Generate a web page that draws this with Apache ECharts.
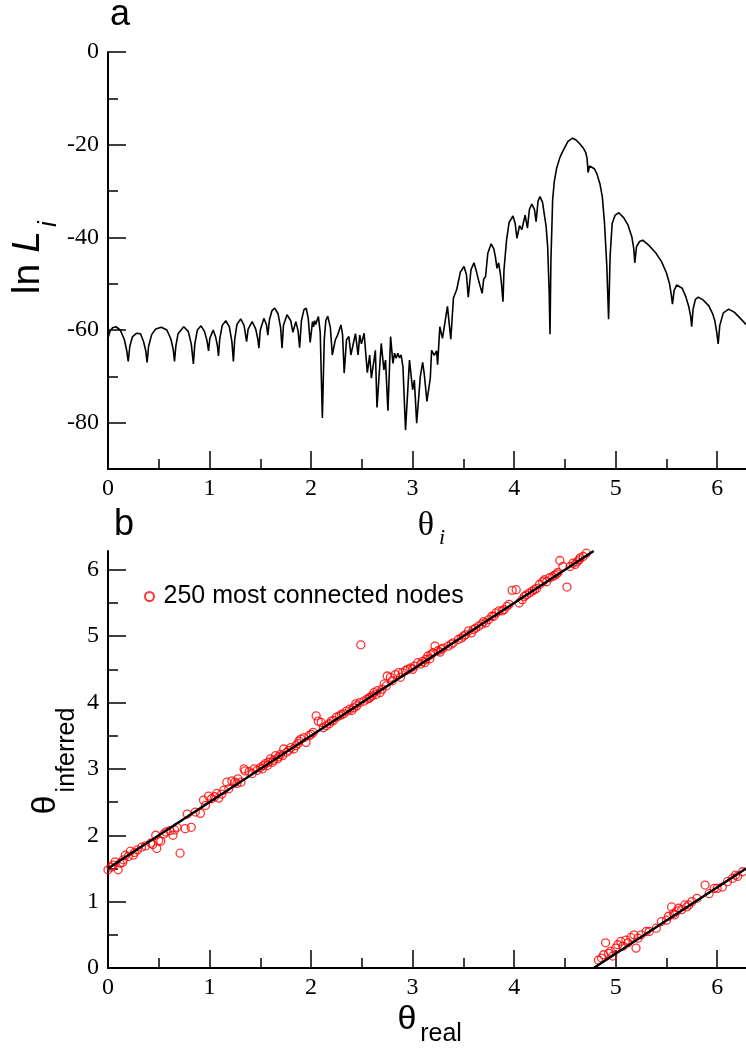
<!DOCTYPE html>
<html>
<head>
<meta charset="utf-8">
<script src="https://cdn.jsdelivr.net/npm/echarts@6/dist/echarts.min.js"></script>
<style>
  html, body { margin: 0; padding: 0; background: #fff; }
  #chart { width: 746px; height: 1050px; }
</style>
</head>
<body>
<div id="chart"></div>
<script>
  const TWO_PI = 6.2832;

  // tick positions
  const majorTicks = [0, 1, 2, 3, 4, 5, 6];
  const minorTicks = [0.5, 1.5, 2.5, 3.5, 4.5, 5.5];
  const lnLMajor = [0, -20, -40, -60, -80];
  const lnLMinor = [-10, -30, -50, -70];

  // panel a: ln L_i against theta_i
  const likelihood = [
    [0.000, -61.8], [0.020, -60.2], [0.045, -59.5], [0.078, -59.3], [0.120, -60.0], [0.160, -62.0],
    [0.185, -64.5], [0.199, -66.8], [0.215, -63.5], [0.240, -61.5], [0.280, -60.7], [0.320, -60.8],
    [0.350, -62.5], [0.372, -64.5], [0.385, -67.0], [0.400, -63.5], [0.430, -61.0], [0.470, -59.8],
    [0.525, -59.4], [0.580, -60.0], [0.620, -62.0], [0.643, -64.3], [0.655, -66.8], [0.668, -63.5],
    [0.690, -60.8], [0.746, -59.3], [0.790, -60.3], [0.820, -63.0], [0.841, -67.3], [0.855, -63.0],
    [0.880, -60.0], [0.916, -59.1], [0.950, -60.3], [0.975, -62.3], [0.990, -64.5], [1.003, -61.8],
    [1.036, -60.0], [1.060, -61.5], [1.078, -63.5], [1.088, -65.6], [1.100, -62.0], [1.125, -59.0],
    [1.160, -58.0], [1.195, -59.3], [1.220, -62.5], [1.235, -66.8], [1.248, -62.0], [1.270, -58.8],
    [1.307, -57.6], [1.340, -59.0], [1.365, -62.5], [1.380, -59.8], [1.420, -58.2], [1.455, -59.8],
    [1.476, -62.0], [1.486, -63.9], [1.500, -60.0], [1.535, -57.5], [1.560, -58.8], [1.574, -61.1],
    [1.590, -57.8], [1.615, -55.8], [1.642, -55.3], [1.675, -56.5], [1.700, -59.5], [1.714, -63.9],
    [1.728, -59.0], [1.763, -56.7], [1.800, -58.0], [1.821, -60.5], [1.850, -58.2], [1.872, -60.2],
    [1.887, -63.8], [1.905, -58.0], [1.930, -55.6], [1.952, -55.3], [1.972, -57.5], [1.991, -62.7],
    [2.014, -58.2], [2.024, -59.3], [2.035, -58.0], [2.045, -58.8], [2.072, -57.1], [2.090, -60.5],
    [2.111, -79.0], [2.130, -62.0], [2.145, -58.0], [2.164, -57.0], [2.190, -59.5], [2.209, -65.4],
    [2.239, -62.1], [2.261, -61.1], [2.294, -58.9], [2.310, -61.0], [2.326, -69.3], [2.349, -62.1],
    [2.372, -61.4], [2.392, -65.4], [2.437, -60.8], [2.463, -65.4], [2.479, -61.1], [2.496, -63.0],
    [2.522, -60.7], [2.554, -69.2], [2.577, -65.4], [2.594, -70.4], [2.633, -64.4], [2.649, -76.7],
    [2.691, -62.9], [2.717, -68.6], [2.733, -66.5], [2.757, -77.4], [2.783, -61.4], [2.806, -67.2],
    [2.822, -65.0], [2.838, -66.1], [2.855, -65.0], [2.870, -66.0], [2.887, -65.4], [2.905, -68.0],
    [2.930, -81.6], [2.969, -66.5], [3.000, -72.9], [3.017, -70.8], [3.040, -80.1], [3.076, -70.0],
    [3.099, -67.0], [3.115, -69.6], [3.141, -75.4], [3.174, -70.4], [3.187, -64.4], [3.213, -65.5],
    [3.236, -64.5], [3.246, -67.5], [3.268, -59.3], [3.294, -61.8], [3.343, -54.9], [3.376, -62.0],
    [3.402, -53.1], [3.435, -51.2], [3.470, -47.5], [3.506, -46.3], [3.530, -48.0], [3.548, -52.9],
    [3.575, -47.0], [3.604, -45.5], [3.630, -47.5], [3.653, -49.6], [3.685, -52.1], [3.700, -49.0],
    [3.718, -48.5], [3.740, -43.5], [3.773, -41.4], [3.800, -42.5], [3.815, -44.2], [3.831, -46.7],
    [3.847, -45.5], [3.863, -47.7], [3.875, -50.0], [3.890, -53.9], [3.900, -47.0], [3.925, -40.6],
    [3.950, -36.8], [3.988, -35.4], [4.010, -37.0], [4.027, -40.2], [4.053, -37.5], [4.076, -38.3],
    [4.108, -35.2], [4.131, -38.0], [4.150, -34.0], [4.174, -32.8], [4.200, -34.0], [4.216, -36.6],
    [4.235, -32.2], [4.255, -31.2], [4.280, -32.5], [4.298, -35.2], [4.314, -37.5], [4.330, -42.0],
    [4.345, -52.0], [4.353, -60.9], [4.362, -45.0], [4.379, -31.9], [4.395, -28.0], [4.418, -25.1],
    [4.450, -22.8], [4.477, -21.5], [4.530, -19.3], [4.575, -18.6], [4.610, -19.0], [4.646, -19.8],
    [4.680, -20.7], [4.705, -21.7], [4.718, -23.0], [4.728, -26.0], [4.742, -24.6], [4.760, -24.2],
    [4.790, -25.2], [4.815, -26.3], [4.845, -28.5], [4.868, -31.2], [4.890, -37.0], [4.912, -46.0],
    [4.930, -57.7], [4.945, -44.0], [4.965, -37.0], [4.995, -35.2], [5.031, -34.7], [5.080, -35.8],
    [5.120, -37.3], [5.160, -40.0], [5.178, -42.5], [5.188, -45.5], [5.205, -42.0], [5.235, -40.9],
    [5.266, -40.6], [5.330, -41.8], [5.396, -43.4], [5.450, -45.2], [5.500, -47.7], [5.530, -50.0],
    [5.548, -52.5], [5.559, -54.4], [5.575, -51.5], [5.600, -50.3], [5.618, -50.1], [5.655, -51.0],
    [5.690, -52.8], [5.720, -55.0], [5.738, -57.0], [5.748, -59.3], [5.762, -55.5], [5.785, -53.4],
    [5.813, -52.9], [5.860, -53.5], [5.917, -54.8], [5.955, -56.5], [5.976, -58.0], [5.995, -60.5],
    [6.009, -63.0], [6.025, -59.0], [6.060, -56.3], [6.113, -55.5], [6.170, -56.2], [6.237, -57.7],
    [6.283, -58.8]
  ];

  // panel b: [theta_real, theta_inferred] of the 250 most connected nodes
  const nodes = [
    [0.00, 1.48], [0.03, 1.52], [0.05, 1.55], [0.07, 1.60], [0.10, 1.48], [0.12, 1.58], [0.145, 1.59],
    [0.15, 1.63], [0.17, 1.70], [0.20, 1.68], [0.22, 1.76], [0.25, 1.70], [0.26, 1.74], [0.29, 1.78],
    [0.33, 1.82], [0.37, 1.84], [0.42, 1.88], [0.44, 1.86], [0.47, 2.00], [0.48, 1.80], [0.50, 1.92],
    [0.52, 1.91], [0.55, 2.02], [0.57, 2.05], [0.61, 2.07], [0.64, 2.00], [0.655, 2.08], [0.68, 2.12],
    [0.71, 1.73], [0.76, 2.10], [0.78, 2.32], [0.82, 2.12], [0.86, 2.35], [0.91, 2.33], [0.94, 2.53],
    [0.96, 2.45], [0.99, 2.59], [1.02, 2.55], [1.05, 2.58], [1.07, 2.63], [1.09, 2.56], [1.12, 2.62],
    [1.14, 2.68], [1.17, 2.80], [1.19, 2.70], [1.22, 2.82], [1.25, 2.80], [1.27, 2.78], [1.28, 2.85],
    [1.31, 2.80], [1.34, 3.00], [1.35, 2.97], [1.39, 2.96], [1.42, 2.93], [1.44, 3.00], [1.47, 2.98],
    [1.50, 3.02], [1.52, 3.00], [1.53, 3.05], [1.55, 3.08], [1.57, 3.05], [1.58, 3.10], [1.60, 3.15],
    [1.62, 3.10], [1.63, 3.13], [1.65, 3.20], [1.67, 3.15], [1.68, 3.18], [1.70, 3.22], [1.72, 3.20],
    [1.73, 3.30], [1.76, 3.25], [1.78, 3.28], [1.80, 3.32], [1.83, 3.30], [1.85, 3.35], [1.87, 3.38],
    [1.88, 3.42], [1.90, 3.45], [1.93, 3.47], [1.95, 3.40], [1.98, 3.50], [2.00, 3.52], [2.02, 3.55],
    [2.05, 3.80], [2.07, 3.72], [2.10, 3.70], [2.12, 3.62], [2.15, 3.65], [2.18, 3.68], [2.20, 3.72],
    [2.22, 3.73], [2.25, 3.78], [2.28, 3.80], [2.30, 3.82], [2.32, 3.83], [2.35, 3.87], [2.38, 3.90],
    [2.40, 3.88], [2.42, 3.92], [2.44, 3.98], [2.45, 3.95], [2.48, 4.00], [2.49, 4.87], [2.52, 4.02],
    [2.55, 4.05], [2.57, 4.06], [2.58, 4.08], [2.60, 4.10], [2.62, 4.15], [2.64, 4.12], [2.65, 4.18],
    [2.68, 4.15], [2.70, 4.20], [2.72, 4.28], [2.74, 4.25], [2.75, 4.40], [2.78, 4.38], [2.80, 4.33],
    [2.83, 4.42], [2.86, 4.45], [2.88, 4.38], [2.90, 4.45], [2.93, 4.48], [2.95, 4.50], [2.98, 4.52],
    [3.00, 4.50], [3.02, 4.55], [3.05, 4.60], [3.08, 4.58], [3.10, 4.62], [3.12, 4.60], [3.13, 4.65],
    [3.15, 4.70], [3.17, 4.66], [3.18, 4.72], [3.20, 4.75], [3.22, 4.85], [3.25, 4.78], [3.27, 4.76],
    [3.28, 4.80], [3.30, 4.82], [3.35, 4.85], [3.38, 4.88], [3.40, 4.90], [3.45, 4.95], [3.48, 4.97],
    [3.50, 5.00], [3.52, 5.02], [3.55, 5.08], [3.58, 5.05], [3.60, 5.10], [3.62, 5.12], [3.65, 5.15],
    [3.68, 5.18], [3.70, 5.22], [3.72, 5.20], [3.75, 5.25], [3.78, 5.30], [3.80, 5.30], [3.82, 5.35],
    [3.85, 5.38], [3.88, 5.38], [3.90, 5.40], [3.93, 5.45], [3.95, 5.48], [3.98, 5.69], [4.02, 5.70],
    [4.05, 5.50], [4.08, 5.55], [4.10, 5.60], [4.12, 5.62], [4.15, 5.65], [4.18, 5.68], [4.20, 5.70],
    [4.22, 5.72], [4.25, 5.78], [4.28, 5.82], [4.30, 5.85], [4.32, 5.82], [4.35, 5.88], [4.38, 5.90],
    [4.40, 5.92], [4.42, 5.94], [4.43, 5.96], [4.45, 6.14], [4.48, 6.05], [4.52, 5.74], [4.55, 6.05],
    [4.58, 6.10], [4.60, 6.08], [4.62, 6.12], [4.64, 6.15], [4.65, 6.18], [4.68, 6.20], [4.71, 6.25],
    [4.83, 0.12], [4.86, 0.15], [4.88, 0.20], [4.90, 0.38], [4.93, 0.22], [4.95, 0.25], [4.97, 0.18],
    [5.00, 0.30], [5.02, 0.35], [5.05, 0.40], [5.07, 0.33], [5.10, 0.42], [5.12, 0.38], [5.15, 0.46],
    [5.18, 0.50], [5.20, 0.30], [5.22, 0.45], [5.25, 0.50], [5.30, 0.55], [5.33, 0.55], [5.40, 0.60],
    [5.45, 0.70], [5.50, 0.72], [5.52, 0.78], [5.55, 0.92], [5.57, 0.82], [5.58, 0.80], [5.60, 0.86],
    [5.62, 0.90], [5.65, 0.88], [5.68, 0.95], [5.70, 0.92], [5.72, 0.95], [5.75, 1.00], [5.80, 1.05],
    [5.88, 1.25], [5.92, 1.12], [5.97, 1.20], [6.00, 1.20], [6.05, 1.22], [6.10, 1.30], [6.15, 1.35],
    [6.18, 1.40], [6.20, 1.38], [6.25, 1.45]
  ];

  // fitted line, wrapped at 2 pi
  const fitUpper = [[0, 1.5], [4.783, 6.2832]];
  const fitLower = [[4.783, 0], [6.2832, 1.5]];

  const chart = echarts.init(document.getElementById('chart'));

  const tickFont = { fontFamily: 'Liberation Serif', fontSize: 24, color: '#000' };
  const panelA = { left: 108, top: 52, width: 643, height: 417 };
  const panelB = { left: 108, top: 551, width: 643, height: 417 };

  // grids 0/1 carry the data and long ticks, grids 2/3 sit on top of them for the short ticks
  const majorAxis = (dim, grid, min, max, ticks) => ({
    gridIndex: grid,
    type: 'value',
    min: min,
    max: max,
    axisLine: { onZero: false, lineStyle: { color: '#000', width: 2 } },
    axisTick: { inside: true, length: 18, customValues: ticks, lineStyle: { color: '#000', width: 1.5 } },
    axisLabel: Object.assign({ customValues: ticks, margin: dim === 'x' ? 8 : 9 }, tickFont),
    splitLine: { show: false }
  });
  const minorAxis = (grid, min, max, ticks) => ({
    gridIndex: grid,
    type: 'value',
    min: min,
    max: max,
    axisLine: { show: false, onZero: false },
    axisTick: { inside: true, length: 10, customValues: ticks, lineStyle: { color: '#000', width: 1.5 } },
    axisLabel: { show: false },
    splitLine: { show: false }
  });

  const text = (x, y, str, size, extra) => ({
    type: 'text',
    x: x,
    y: y,
    rotation: (extra && extra.rotation) || 0,
    style: {
      text: str,
      fontSize: size,
      fontFamily: (extra && extra.family) || 'Liberation Sans',
      fontStyle: (extra && extra.italic) ? 'italic' : 'normal',
      fill: '#000',
      align: 'center',
      verticalAlign: 'middle'
    }
  });

  chart.setOption({
    animation: false,
    grid: [panelA, panelB, panelA, panelB],
    xAxis: [
      majorAxis('x', 0, 0, TWO_PI, majorTicks),
      majorAxis('x', 1, 0, TWO_PI, majorTicks),
      minorAxis(2, 0, TWO_PI, minorTicks),
      minorAxis(3, 0, TWO_PI, minorTicks)
    ],
    yAxis: [
      majorAxis('y', 0, -90, 0, lnLMajor),
      majorAxis('y', 1, 0, TWO_PI, majorTicks),
      minorAxis(2, -90, 0, lnLMinor),
      minorAxis(3, 0, TWO_PI, minorTicks)
    ],
    legend: {
      data: ['250 most connected nodes'],
      left: 144,
      top: 584,
      padding: 0,
      itemWidth: 18,
      itemHeight: 9,
      selectedMode: false,
      textStyle: { fontFamily: 'Liberation Sans', fontSize: 25, color: '#000' }
    },
    graphic: [
      text(120, 15, 'a', 36),
      text(124, 525, 'b', 36),
      text(28, 279, 'ln', 39, { rotation: Math.PI / 2 }),
      text(28, 242, 'L', 39, { rotation: Math.PI / 2, italic: true }),
      text(49, 224, 'i', 26, { rotation: Math.PI / 2, italic: true }),
      text(426, 526, 'θ', 34, { family: 'Liberation Serif' }),
      text(442, 538, 'i', 22, { family: 'Liberation Serif', italic: true }),
      text(46, 805, 'θ', 34, { rotation: Math.PI / 2 }),
      text(67, 750, 'inferred', 25, { rotation: Math.PI / 2 }),
      text(407, 1020, 'θ', 34),
      text(441, 1034, 'real', 25)
    ],
    series: [
      {
        type: 'line',
        xAxisIndex: 0,
        yAxisIndex: 0,
        data: likelihood,
        showSymbol: false,
        lineStyle: { color: '#000', width: 1.6 }
      },
      {
        name: '250 most connected nodes',
        type: 'scatter',
        xAxisIndex: 1,
        yAxisIndex: 1,
        data: nodes,
        symbol: 'circle',
        symbolSize: 8,
        itemStyle: { color: 'rgba(255,255,255,0)', borderColor: '#ff0000', borderWidth: 1.3 }
      },
      {
        type: 'line',
        xAxisIndex: 1,
        yAxisIndex: 1,
        data: fitUpper,
        showSymbol: false,
        z: 5,
        lineStyle: { color: '#000', width: 2.5 }
      },
      {
        type: 'line',
        xAxisIndex: 1,
        yAxisIndex: 1,
        data: fitLower,
        showSymbol: false,
        z: 5,
        lineStyle: { color: '#000', width: 2.5 }
      }
    ]
  });
</script>
</body>
</html>
